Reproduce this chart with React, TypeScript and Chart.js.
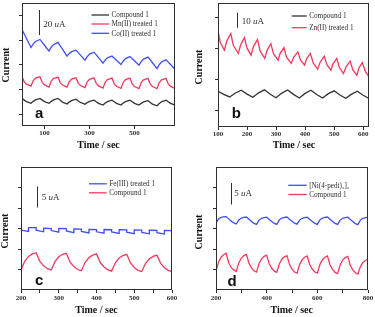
import React, { useEffect, useRef } from 'react';
import { Chart, registerables } from 'chart.js';
Chart.register(...registerables);

const INK = '#2e2e2e';
const BLACK = '#333333';
const RED = '#f5385e';
const BLUE = '#3f4ef8';

// ---------- Panel a ----------
const A_TIME = [0,10,20,40,50,60,80,90,100,120,130,140,160,170,180,200,210,220,240,250,260,280,290,300,320,330,340,360,370,380,400,410,420,440,450,460,480,490,500,520,530,540,560,570,580,600,610,620,640,650,660,680];
const A_COMPOUND = [12.7,11.3,10.1,8.7,10.3,11.5,12.7,11.3,10.1,8.7,10.3,11.5,12.7,11.1,9.7,8.1,9.7,10.9,12.1,10.6,9.4,7.9,9.3,10.3,11.3,9.9,8.7,7.3,8.9,10.1,11.3,9.9,8.7,7.3,8.9,10.1,11.3,9.9,8.7,7.3,8.7,9.8,10.8,9.4,8.1,6.7,8.5,9.9,11.3,9.9,8.7,7.3];
const A_MN = [30.2,26.1,24.2,22.7,27.2,29.1,30.2,25.6,23.6,21.9,26.8,28.8,30.0,25.5,23.5,21.9,26.4,28.3,29.4,25.1,23.1,21.5,26.2,28.2,29.4,24.8,22.8,21.1,25.9,27.9,29.1,24.5,22.5,20.8,25.8,27.9,29.1,24.4,22.3,20.6,25.6,27.7,28.9,24.3,22.3,20.6,25.6,27.7,28.9,24.4,22.4,20.8];
const A_CO = [68.6,64.9,61.3,54.0,56.9,58.9,60.5,58.1,55.8,51.0,54.2,56.3,58.1,55.3,52.6,47.0,49.2,50.6,51.8,49.8,47.8,43.7,46.6,48.6,50.2,48.0,45.8,41.3,43.9,45.6,47.0,45.3,43.6,40.2,43.1,45.0,46.6,44.9,43.2,39.7,42.6,44.6,46.2,43.9,41.6,36.9,40.1,42.2,44.0,42.1,40.2,36.4];
const A_XTICKS = [100, 300, 500];
const A_XLABELS = [100, 300, 500];
const A_YTICKS = [0, 20, 40, 60, 80];

// ---------- Panel b ----------
const B_TIME_COMPOUND = [100,120,140,160,180,200,220,240,260,280,300,320,340,360,380,400,420,440,460,480,500,520,540,560,580,600,620];
const B_COMPOUND = [13.3,11.1,9.3,12.1,14.0,11.3,9.1,12.2,14.3,11.2,8.7,12.0,14.2,11.1,8.6,11.8,14.0,11.0,8.6,11.6,13.6,10.7,8.4,11.3,13.3,10.5,8.2];
const B_TIME_ZN = [100,108,122,130,144,153,170,178,191,200,214,222,236,245,261,269,282,291,307,314,327,336,352,361,375,384,398,405,418,428,443,452,466,475,489,496,509,518,532,541,555,564,578,585,597,607,620];
const B_ZN = [55.5,47.4,42.0,48.4,53.6,45.3,39.7,45.8,50.8,43.4,38.5,44.5,49.4,41.5,36.2,41.9,46.6,39.6,35.0,39.8,43.8,37.1,32.7,37.2,40.8,35.2,31.5,36.0,39.7,33.1,28.7,33.7,37.8,31.9,28.0,32.5,36.2,29.9,25.7,30.4,34.3,28.4,24.5,29.4,33.4,27.3,23.3];
const B_XTICKS = [100, 200, 300, 400, 500, 600];
const B_XLABELS = [100, 200, 300, 400, 500, 600];
const B_YTICKS = [0, 21.5, 43, 65];

// ---------- Panel c ----------
const C_TIME_FE = [200,220,220,240,240,260,260,280,280,300,300,320,320,340,340,360,360,380,380,400,400,420,420,440,440,460,460,480,480,500,500,520,520,540,540,560,560,580,580,600];
const C_FE = [14.6,14.3,15.2,15.2,14.6,14.2,15.1,15.0,14.5,14.1,15.0,14.95,14.4,14.0,14.9,14.85,14.3,13.9,14.8,14.75,14.2,13.85,14.75,14.7,14.15,13.8,14.7,14.65,14.1,13.75,14.65,14.6,14.05,13.7,14.6,14.55,14.0,13.65,14.55,14.5];
const C_TIME = [200,210,220,230,240,250,260,270,280,290,300,310,320,330,340,350,360,370,380,390,400,410,420,430,440,450,460,470,480,490,500,510,520,530,540,550,560,570,580,590,600];
const C_COMPOUND = [4.9,7.0,8.2,8.8,9.1,7.0,5.9,5.2,4.9,6.9,8.1,8.7,8.95,6.8,5.7,5.0,4.7,6.75,7.9,8.5,8.8,6.7,5.6,4.9,4.6,6.65,7.8,8.4,8.7,6.6,5.5,4.8,4.5,6.5,7.6,8.2,8.5,6.5,5.4,4.8,4.5];
const C_XTICKS = [200, 250, 300, 350, 400, 450, 500, 550, 600];
const C_XLABELS = [200, 300, 400, 500, 600];
const C_YTICKS = [5, 10, 15, 20, 25];

// ---------- Panel d ----------
const D_TIME = [200,210,220,230,240,250,260,270,280,290,300,310,320,330,340,350,360,370,380,390,400,410,420,430,440,450,460,470,480,490,500,510,520,530,540,550,560,570,580,590,600,610,620,630,640,650,660,670,680,690,700,710,720,730,740,750,760,770,780,790,800];
const D_NI = [16.4,17.3,17.7,17.85,17.9,17.35,16.8,16.35,16.1,17.1,17.55,17.7,17.8,17.25,16.7,16.25,16.0,17.05,17.5,17.65,17.75,17.2,16.7,16.25,16.0,17.1,17.55,17.7,17.8,17.25,16.75,16.3,16.05,17.05,17.5,17.65,17.75,17.2,16.7,16.25,16.0,17.1,17.55,17.7,17.8,17.25,16.7,16.25,16.0,17.05,17.5,17.65,17.75,17.2,16.7,16.2,15.95,17.05,17.5,17.65,17.75];
const D_COMPOUND = [4.6,6.8,8.0,8.6,8.95,6.7,5.5,4.9,4.5,6.6,7.8,8.4,8.7,6.55,5.4,4.7,4.4,6.45,7.6,8.2,8.5,6.4,5.3,4.6,4.3,6.35,7.5,8.1,8.4,6.25,5.1,4.4,4.1,6.2,7.4,8.0,8.3,6.2,5.1,4.4,4.1,6.2,7.4,8.0,8.3,6.15,5.0,4.3,4.0,6.1,7.3,7.9,8.2,6.05,4.9,4.2,3.9,5.7,6.7,7.2,7.5];
const D_XTICKS = [200, 300, 400, 500, 600, 700, 800];
const D_XLABELS = [200, 400, 600, 800];
const D_YTICKS = [5, 10, 15, 20, 25];

const pts = (xs: number[], ys: number[]) => xs.map((x, i) => ({ x, y: ys[i] }));

type Legend = { label: string; color: string };
type PanelCfg = {
  left: number; top: number; w: number; h: number;
  yAxisW: number; xAxisH: number; padTop: number; padRight: number;
  xMin: number; xMax: number; yMin: number; yMax: number;
  xTicks: number[]; xLabels: number[]; yTicks: number[]; tickPad: number;
  series: { data: { x: number; y: number }[]; color: string }[];
  legend: Legend[]; legX1: number; legX2: number; legY: number[];
  bar: { x: number; y1: number; y2: number; tx: number; ty: number; num: string };
  letter: { t: string; x: number; y: number };
  yTitle: { x: number; y: number };
  xTitle: { x: number; y: number };
};

const PANELS: PanelCfg[] = [
  {
    left: 0, top: 0, w: 187, h: 160, yAxisW: 22, xAxisH: 34, padTop: 3, padRight: 12,
    xMin: 0, xMax: 680, yMin: -9.7, yMax: 90.1, xTicks: A_XTICKS, xLabels: A_XLABELS, yTicks: A_YTICKS, tickPad: 0,
    series: [
      { data: pts(A_TIME, A_COMPOUND), color: BLACK },
      { data: pts(A_TIME, A_MN), color: RED },
      { data: pts(A_TIME, A_CO), color: BLUE },
    ],
    legend: [
      { label: 'Compound 1', color: BLACK },
      { label: 'Mn(II) treated 1', color: RED },
      { label: 'Co(II) treated 1', color: BLUE },
    ],
    legX1: 91.5, legX2: 109, legY: [15, 24, 33.3],
    bar: { x: 39, y1: 10, y2: 35, tx: 43.3, ty: 24.5, num: '20' },
    letter: { t: 'a', x: 35, y: 118 },
    yTitle: { x: 6, y: 65 },
    xTitle: { x: 98.5, y: 145.7 },
  },
  {
    left: 187, top: 0, w: 188, h: 160, yAxisW: 31, xAxisH: 33, padTop: 3, padRight: 6,
    xMin: 100, xMax: 620, yMin: -11.7, yMax: 75, xTicks: B_XTICKS, xLabels: B_XLABELS, yTicks: B_YTICKS, tickPad: 0,
    series: [
      { data: pts(B_TIME_COMPOUND, B_COMPOUND), color: BLACK },
      { data: pts(B_TIME_ZN, B_ZN), color: RED },
    ],
    legend: [
      { label: 'Compound 1', color: BLACK },
      { label: 'Zn(II) treated 1', color: RED },
    ],
    legX1: 104.7, legX2: 119.7, legY: [16, 27.7],
    bar: { x: 49.7, y1: 12.7, y2: 27.7, tx: 54.7, ty: 21.7, num: '10' },
    letter: { t: 'b', x: 44.7, y: 118.3 },
    yTitle: { x: 12.5, y: 67 },
    xTitle: { x: 107, y: 145.7 },
  },
  {
    left: 0, top: 160, w: 187, h: 157, yAxisW: 21, xAxisH: 27, padTop: 7, padRight: 15,
    xMin: 200, xMax: 600, yMin: 0, yMax: 30, xTicks: C_XTICKS, xLabels: C_XLABELS, yTicks: C_YTICKS, tickPad: 1,
    series: [
      { data: pts(C_TIME_FE, C_FE), color: BLUE },
      { data: pts(C_TIME, C_COMPOUND), color: RED },
    ],
    legend: [
      { label: 'Fe(III) treated 1', color: BLUE },
      { label: 'Compound 1', color: RED },
    ],
    legX1: 89, legX2: 106.7, legY: [23.8, 32.8],
    bar: { x: 36.5, y1: 26.5, y2: 47.5, tx: 41.7, ty: 37.3, num: '5' },
    letter: { t: 'c', x: 35, y: 125 },
    yTitle: { x: 5.5, y: 71 },
    xTitle: { x: 96.5, y: 150 },
  },
  {
    left: 187, top: 160, w: 188, h: 157, yAxisW: 29, xAxisH: 27, padTop: 7, padRight: 7,
    xMin: 200, xMax: 800, yMin: 0, yMax: 30, xTicks: D_XTICKS, xLabels: D_XLABELS, yTicks: D_YTICKS, tickPad: 1,
    series: [
      { data: pts(D_TIME, D_NI), color: BLUE },
      { data: pts(D_TIME, D_COMPOUND), color: RED },
    ],
    legend: [
      { label: '[Ni(4-pedt)₂]₂', color: BLUE },
      { label: 'Compound 1', color: RED },
    ],
    legX1: 101.3, legX2: 119.7, legY: [25.3, 34.5],
    bar: { x: 44, y1: 23, y2: 44.5, tx: 47.3, ty: 34, num: '5' },
    letter: { t: 'd', x: 40.5, y: 125.7 },
    yTitle: { x: 12.5, y: 72 },
    xTitle: { x: 104.7, y: 150 },
  },
];

const SERIF = '"Liberation Serif", "Times New Roman", serif';

function overlay(p: PanelCfg) {
  return {
    id: 'overlay',
    afterDraw(chart: any) {
      const ctx: CanvasRenderingContext2D = chart.ctx;
      const a = chart.chartArea;
      ctx.save();
      ctx.strokeStyle = INK;
      ctx.lineWidth = 1;
      const l = Math.round(a.left) + 0.5, t = Math.round(a.top) + 0.5;
      const r = Math.round(a.right) - 0.5, b = Math.round(a.bottom) - 0.5;
      ctx.strokeRect(l, t, r - l, b - t);
      ctx.font = `7.2px ${SERIF}`;
      ctx.textBaseline = 'middle';
      ctx.textAlign = 'left';
      p.legend.forEach((it, i) => {
        const y = p.legY[i];
        ctx.strokeStyle = it.color;
        ctx.lineWidth = 1.3;
        ctx.beginPath();
        ctx.moveTo(p.legX1, y);
        ctx.lineTo(p.legX2, y);
        ctx.stroke();
        ctx.fillStyle = INK;
        ctx.fillText(it.label, p.legX2 + 2.5, y + 0.5);
      });
      ctx.strokeStyle = INK;
      ctx.lineWidth = 1;
      ctx.beginPath();
      ctx.moveTo(Math.round(p.bar.x) + 0.5, p.bar.y1);
      ctx.lineTo(Math.round(p.bar.x) + 0.5, p.bar.y2);
      ctx.stroke();
      ctx.fillStyle = INK;
      let x = p.bar.tx;
      ctx.font = `9px ${SERIF}`;
      ctx.fillText(p.bar.num + ' ', x, p.bar.ty);
      x += ctx.measureText(p.bar.num + ' ').width;
      ctx.font = `italic 9px ${SERIF}`;
      ctx.fillText('u', x, p.bar.ty);
      x += ctx.measureText('u').width;
      ctx.font = `9px ${SERIF}`;
      ctx.fillText('A', x, p.bar.ty);
      ctx.font = 'bold 15px "Liberation Sans", Arial, sans-serif';
      ctx.textBaseline = 'alphabetic';
      ctx.fillStyle = '#111';
      ctx.fillText(p.letter.t, p.letter.x, p.letter.y);
      ctx.font = `bold 10px ${SERIF}`;
      ctx.textAlign = 'center';
      ctx.textBaseline = 'middle';
      ctx.fillStyle = '#111';
      ctx.fillText('Time / sec', p.xTitle.x, p.xTitle.y);
      ctx.save();
      ctx.translate(p.yTitle.x, p.yTitle.y);
      ctx.rotate(-Math.PI / 2);
      ctx.fillText('Current', 0, 0);
      ctx.restore();
      ctx.restore();
    },
  };
}

function Panel({ p }: { p: PanelCfg }) {
  const ref = useRef<HTMLCanvasElement>(null);
  useEffect(() => {
    const chart = new Chart(ref.current as HTMLCanvasElement, {
      type: 'line',
      data: {
        datasets: p.series.map((s) => ({
          data: s.data,
          borderColor: s.color,
          backgroundColor: s.color,
          borderWidth: 1.3,
          pointRadius: 0,
          tension: 0,
          fill: false,
        })),
      },
      options: {
        responsive: false,
        maintainAspectRatio: false,
        animation: false,
        events: [],
        parsing: false as any,
        layout: { padding: { top: p.padTop, right: p.padRight, left: 0, bottom: 0 } },
        plugins: { legend: { display: false }, tooltip: { enabled: false }, title: { display: false } },
        scales: {
          x: {
            type: 'linear',
            min: p.xMin,
            max: p.xMax,
            afterBuildTicks: (s: any) => { s.ticks = p.xTicks.map((v) => ({ value: v })); },
            afterFit: (s: any) => { s.height = p.xAxisH; },
            ticks: {
              autoSkip: false,
              maxRotation: 0,
              minRotation: 0,
              padding: p.tickPad,
              color: INK,
              font: { family: SERIF, size: 7, weight: 'bold' },
              callback: (v: any) => (p.xLabels.includes(Number(v)) ? String(v) : ''),
            },
            grid: { display: true, drawOnChartArea: false, drawTicks: true, tickLength: 3, color: INK, lineWidth: 1 },
            border: { display: false },
          },
          y: {
            type: 'linear',
            min: p.yMin,
            max: p.yMax,
            afterBuildTicks: (s: any) => { s.ticks = p.yTicks.map((v) => ({ value: v })); },
            afterFit: (s: any) => { s.width = p.yAxisW; },
            ticks: { display: false },
            grid: { display: true, drawOnChartArea: false, drawTicks: true, tickLength: 3, color: INK, lineWidth: 1 },
            border: { display: false },
          },
        },
      } as any,
      plugins: [overlay(p)],
    });
    return () => chart.destroy();
  }, [p]);
  return (
    <canvas
      ref={ref}
      width={p.w}
      height={p.h}
      style={{ position: 'absolute', left: p.left, top: p.top, width: p.w, height: p.h }}
    />
  );
}

export default function App() {
  return (
    <div style={{ position: 'fixed', left: 0, top: 0, width: 375, height: 317, background: '#fff', overflow: 'hidden' }}>
      {PANELS.map((p, i) => (
        <Panel key={i} p={p} />
      ))}
    </div>
  );
}
